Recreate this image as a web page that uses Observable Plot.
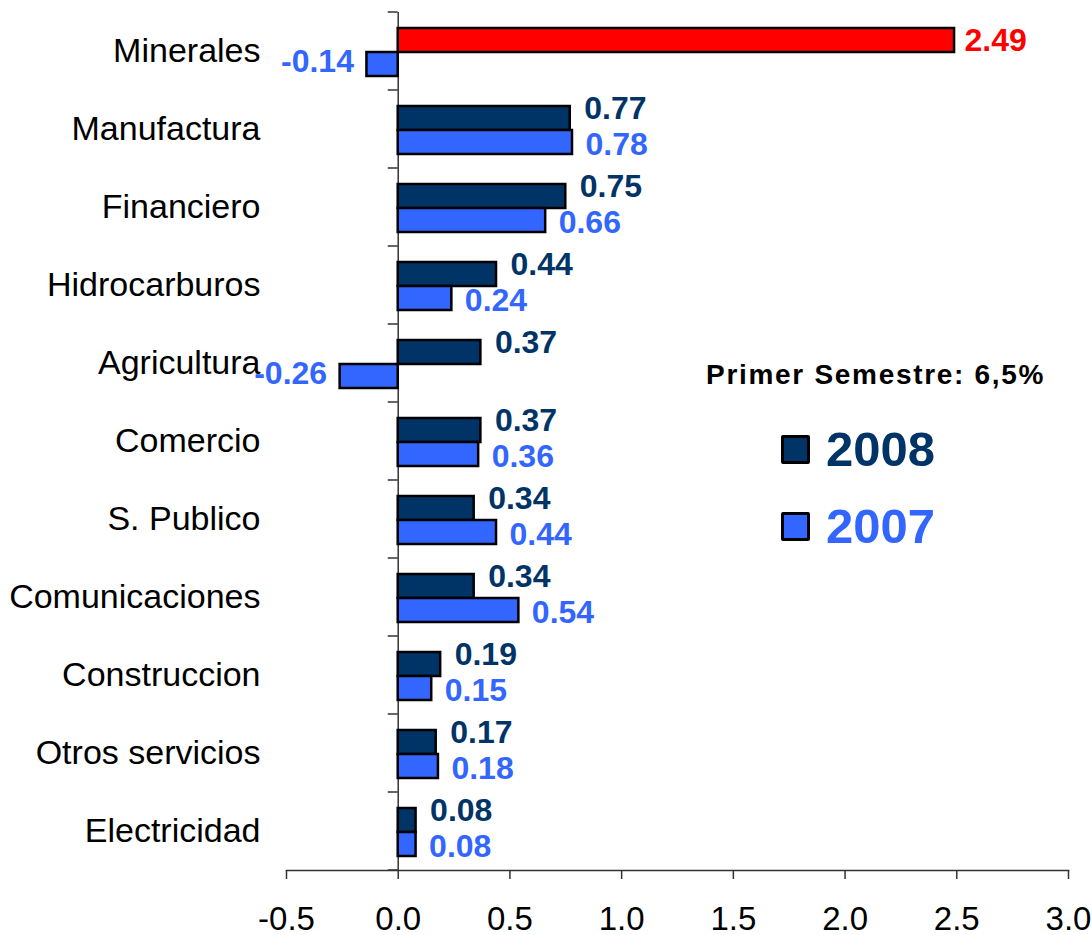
<!DOCTYPE html>
<html>
<head>
<meta charset="utf-8">
<script src="https://cdn.jsdelivr.net/npm/d3@7"></script>
<script src="https://cdn.jsdelivr.net/npm/@observablehq/plot@0.6"></script>
<style>
  html, body { margin: 0; padding: 0; background: #fff; }
  #wrap { position: relative; width: 1092px; height: 935px; font-family: "Liberation Sans", Arial, sans-serif; }
  #legend { position: absolute; left: 0; top: 0; width: 0; height: 0; }
  .title { position: absolute; left: 706px; top: 359px; font-size: 28px; font-weight: bold; letter-spacing: 1.7px; white-space: nowrap; color: #000; }
  .item { position: absolute; left: 781px; display: flex; align-items: center; white-space: nowrap; }
  .sw { width: 23px; height: 23px; border: 3px solid #000; border-radius: 2px; margin-right: 16px; }
  .lab { font-size: 49px; font-weight: bold; line-height: 1; }
</style>
</head>
<body>
<div id="wrap"></div>
<script>
// ---- data ----
const categories = ["Minerales","Manufactura","Financiero","Hidrocarburos","Agricultura","Comercio","S. Publico","Comunicaciones","Construccion","Otros servicios","Electricidad"];
const values2008 = [2.49, 0.77, 0.75, 0.44, 0.37, 0.37, 0.34, 0.34, 0.19, 0.17, 0.08];
const values2007 = [-0.14, 0.78, 0.66, 0.24, -0.26, 0.36, 0.44, 0.54, 0.15, 0.18, 0.08];
const seriesNames = ["2008", "2007"];
const xTicks = [-0.5, 0.0, 0.5, 1.0, 1.5, 2.0, 2.5, 3.0];
const legendTitle = "Primer Semestre: 6,5%";
const highlightCategory = "Minerales";

// ---- styling ----
const navy = "#003366", blue = "#3366FF", red = "#FF0000";
const color2008 = d => d.cat === highlightCategory ? red : navy;

const rows2008 = categories.map((c, i) => ({cat: c, value: values2008[i]}));
const rows2007 = categories.map((c, i) => ({cat: c, value: values2007[i]}));
const fmt = v => v.toFixed(2);

function boundaryTicks(index, scales, values, dimensions) {
  const y = scales.y, x0 = scales.x(0);
  const bw = typeof y.bandwidth === "function" ? y.bandwidth()
    : (dimensions.height - dimensions.marginTop - dimensions.marginBottom) / categories.length;
  const ys = categories.map(c => y(c));
  ys.push(y(categories[categories.length - 1]) + bw);
  const g = d3.create("svg:g");
  g.selectAll("line").data(ys).join("line")
    .attr("x1", x0 - 10).attr("x2", x0)
    .attr("y1", d => d).attr("y2", d => d)
    .attr("stroke", "#333").attr("stroke-width", 1.5);
  return g.node();
}

const textBase = {x: "value", y: "cat", fontWeight: "bold", fontSize: 32};

const chart = Plot.plot({
  width: 1092,
  height: 935,
  marginLeft: 286,
  marginRight: 24,
  marginTop: 12,
  marginBottom: 65,
  style: {fontFamily: "'Liberation Sans', Arial, sans-serif", fontSize: "34px", background: "#fff", color: "#000", overflow: "visible"},
  x: {domain: [-0.5, 3.0]},
  y: {domain: categories, padding: 0},
  color: {type: "identity"},
  marks: [
    Plot.axisX({ticks: xTicks, tickFormat: d => d.toFixed(1), tickSize: 9, tickPadding: 27, label: null, stroke: "#333", strokeWidth: 1.5, fontSize: 33}),
    Plot.axisY({tickSize: 0, tickPadding: 26, label: null}),
    Plot.frame({anchor: "bottom", stroke: "#333", strokeWidth: 1.5}),
    Plot.ruleX([0], {stroke: "#333", strokeWidth: 1.5}),
    boundaryTicks,
    Plot.barX(rows2008, {x: "value", y: "cat", fill: color2008, stroke: "#000", strokeWidth: 2.5, insetTop: 16, insetBottom: 38}),
    Plot.barX(rows2007, {x: "value", y: "cat", fill: blue, stroke: "#000", strokeWidth: 2.5, insetTop: 40, insetBottom: 14}),
    Plot.text(rows2008.filter(d => d.value >= 0 && d.cat === highlightCategory), {...textBase, text: d => fmt(d.value), fill: color2008, textAnchor: "start", dx: 10, dy: -11}),
    Plot.text(rows2008.filter(d => d.value >= 0 && d.cat !== highlightCategory), {...textBase, text: d => fmt(d.value), fill: color2008, textAnchor: "start", dx: 14, dy: -21}),
    Plot.text(rows2008.filter(d => d.value < 0), {...textBase, text: d => fmt(d.value), fill: color2008, textAnchor: "end", dx: -13, dy: -16}),
    Plot.text(rows2007.filter(d => d.value >= 0), {...textBase, text: d => fmt(d.value), fill: blue, textAnchor: "start", dx: 13, dy: 15}),
    Plot.text(rows2007.filter(d => d.value < 0), {...textBase, text: d => fmt(d.value), fill: blue, textAnchor: "end", dx: -13, dy: 10})
  ]
});

const wrap = document.getElementById("wrap");
wrap.appendChild(chart);

// legend (inside plot area, as in the reference)
const legend = document.createElement("div");
legend.id = "legend";
const title = document.createElement("div");
title.className = "title";
title.textContent = legendTitle;
legend.appendChild(title);
const legendColors = [navy, blue];
const legendTops = [425, 502];
seriesNames.forEach((name, i) => {
  const item = document.createElement("div");
  item.className = "item";
  item.style.top = legendTops[i] + "px";
  const sw = document.createElement("div");
  sw.className = "sw";
  sw.style.background = legendColors[i];
  const lab = document.createElement("div");
  lab.className = "lab";
  lab.style.color = legendColors[i];
  lab.textContent = name;
  item.appendChild(sw);
  item.appendChild(lab);
  legend.appendChild(item);
});
wrap.appendChild(legend);
</script>
</body>
</html>
